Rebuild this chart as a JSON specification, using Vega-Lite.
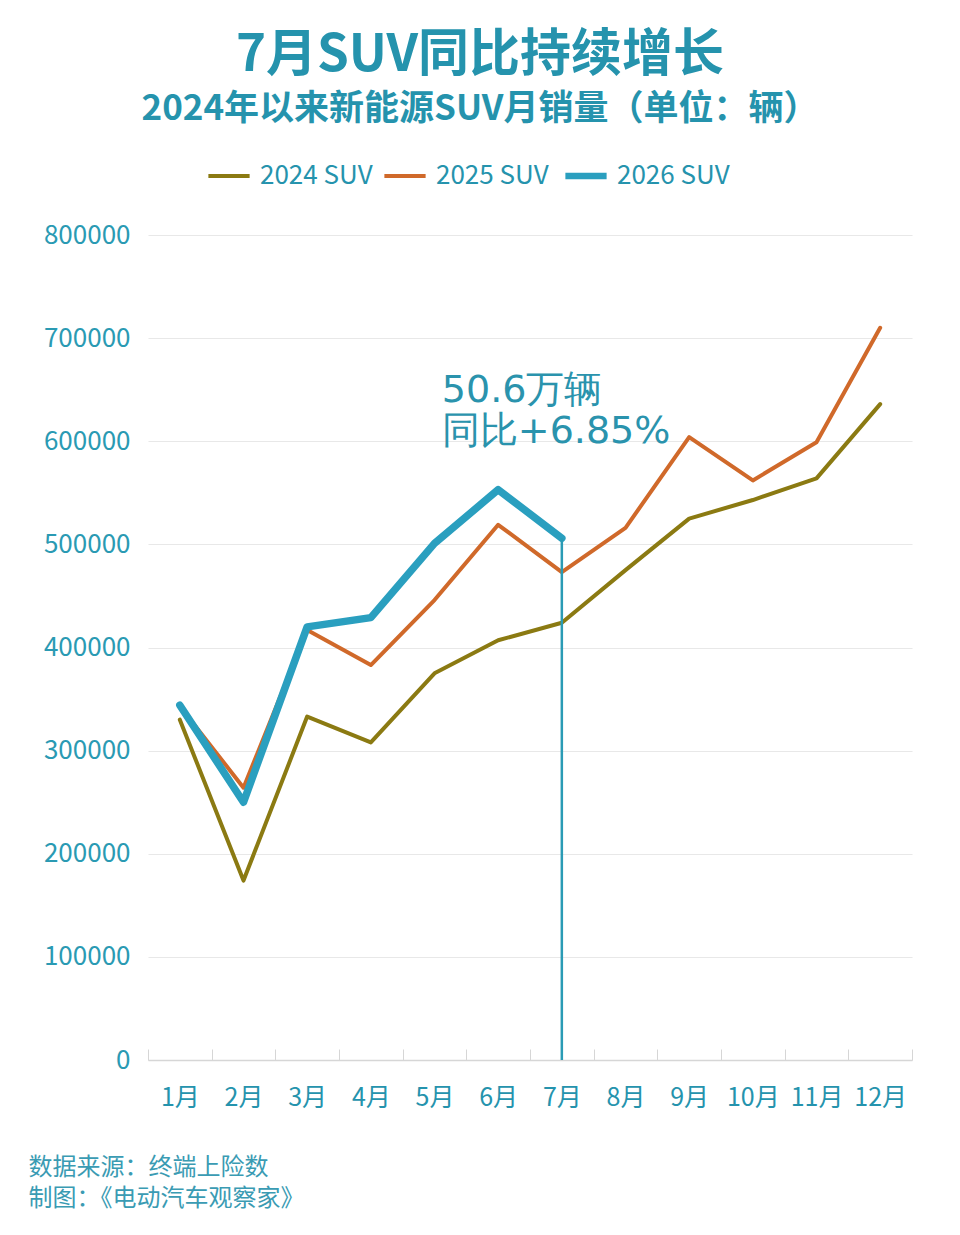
{
  "$schema": "https://vega.github.io/schema/vega-lite/v6.json",
  "width": 764,
  "height": 825,
  "autosize": {"type": "none"},
  "padding": {"left": 148, "top": 235, "right": 48, "bottom": 175},
  "background": "white",
  "config": {
    "font": "Noto Sans CJK SC",
    "view": {"stroke": null}
  },
  "title": {
    "text": "7月SUV同比持续增长",
    "subtitle": "2024年以来新能源SUV月销量（单位：辆）",
    "anchor": "middle",
    "frame": "group",
    "dx": -50,
    "offset": 35,
    "fontSize": 51,
    "fontWeight": "bold",
    "color": "#2593ad",
    "subtitleFontSize": 35,
    "subtitleFontWeight": "bold",
    "subtitleColor": "#2593ad",
    "subtitlePadding": 10
  },
  "data": {
    "values": [
      {"month": "1月", "series": "2024 SUV", "value": 330000},
      {"month": "2月", "series": "2024 SUV", "value": 174000},
      {"month": "3月", "series": "2024 SUV", "value": 333000},
      {"month": "4月", "series": "2024 SUV", "value": 308000},
      {"month": "5月", "series": "2024 SUV", "value": 375000},
      {"month": "6月", "series": "2024 SUV", "value": 407000},
      {"month": "7月", "series": "2024 SUV", "value": 424000},
      {"month": "8月", "series": "2024 SUV", "value": 475000},
      {"month": "9月", "series": "2024 SUV", "value": 525000},
      {"month": "10月", "series": "2024 SUV", "value": 543000},
      {"month": "11月", "series": "2024 SUV", "value": 564000},
      {"month": "12月", "series": "2024 SUV", "value": 636000},
      {"month": "1月", "series": "2025 SUV", "value": 343000},
      {"month": "2月", "series": "2025 SUV", "value": 264000},
      {"month": "3月", "series": "2025 SUV", "value": 417000},
      {"month": "4月", "series": "2025 SUV", "value": 383000},
      {"month": "5月", "series": "2025 SUV", "value": 446000},
      {"month": "6月", "series": "2025 SUV", "value": 519000},
      {"month": "7月", "series": "2025 SUV", "value": 473000},
      {"month": "8月", "series": "2025 SUV", "value": 516000},
      {"month": "9月", "series": "2025 SUV", "value": 604000},
      {"month": "10月", "series": "2025 SUV", "value": 562000},
      {"month": "11月", "series": "2025 SUV", "value": 599000},
      {"month": "12月", "series": "2025 SUV", "value": 710000},
      {"month": "1月", "series": "2026 SUV", "value": 344000},
      {"month": "2月", "series": "2026 SUV", "value": 250000},
      {"month": "3月", "series": "2026 SUV", "value": 420000},
      {"month": "4月", "series": "2026 SUV", "value": 429000},
      {"month": "5月", "series": "2026 SUV", "value": 501000},
      {"month": "6月", "series": "2026 SUV", "value": 553000},
      {"month": "7月", "series": "2026 SUV", "value": 506000}
    ]
  },
  "encoding": {
    "x": {
      "field": "month",
      "type": "nominal",
      "scale": {
        "type": "band",
        "domain": ["1月", "2月", "3月", "4月", "5月", "6月", "7月", "8月", "9月", "10月", "11月", "12月"],
        "paddingInner": 0,
        "paddingOuter": 0
      },
      "axis": {
        "title": ["数据来源：终端上险数", "制图：《电动汽车观察家》"],
        "titleFontSize": 24,
        "titleFontWeight": "normal",
        "titleColor": "#3a9bb3",
        "titleAnchor": "start",
        "titleAlign": "left",
        "titleBaseline": "top",
        "titleX": -120,
        "titleY": 95,
        "titleLineHeight": 31,
        "labelAngle": 0,
        "labelFontSize": 25,
        "labelColor": "#2593ad",
        "labelPadding": 36,
        "tickBand": "extent",
        "tickSize": -11,
        "tickColor": "#d6d6d6",
        "domainColor": "#d6d6d6",
        "domainWidth": 1.5,
        "grid": false
      }
    },
    "y": {
      "field": "value",
      "type": "quantitative",
      "scale": {"domain": [0, 800000], "nice": false},
      "axis": {
        "title": null,
        "values": [0, 100000, 200000, 300000, 400000, 500000, 600000, 700000, 800000],
        "format": "d",
        "domain": false,
        "ticks": false,
        "grid": true,
        "gridColor": "#e8e8e8",
        "gridWidth": 1.2,
        "labelFontSize": 26,
        "labelColor": "#2a9ab3",
        "labelPadding": 18
      }
    }
  },
  "layer": [
    {
      "mark": {"type": "line", "strokeJoin": "round", "strokeCap": "round"},
      "encoding": {
        "color": {
          "field": "series",
          "type": "nominal",
          "scale": {
            "domain": ["2024 SUV", "2025 SUV", "2026 SUV"],
            "range": ["#8b7a12", "#d0692a", "#2a9fbf"]
          },
          "legend": {
            "orient": "none",
            "legendX": 68,
            "legendY": -72,
            "direction": "horizontal",
            "title": null,
            "symbolType": "stroke",
            "symbolSize": 1700,
            "symbolStrokeWidth": 4,
            "labelFontSize": 26,
            "labelColor": "#2593ad",
            "labelOffset": 18,
            "columnPadding": 3,
            "encode": {
              "symbols": {
                "update": {
                  "strokeWidth": {"signal": "datum.label === '2026 SUV' ? 6.5 : 4"}
                }
              }
            }
          }
        },
        "strokeWidth": {
          "condition": {"test": "datum.series === '2026 SUV'", "value": 7.5},
          "value": 4
        }
      }
    },
    {
      "data": {"values": [{"month": "7月", "value": 506000}]},
      "mark": {"type": "rule", "color": "#2a9bb5", "strokeWidth": 2.5},
      "encoding": {
        "y2": {"datum": 0}
      }
    },
    {
      "data": {"values": [{"month": "7月", "value": 506000, "label": ["50.6万辆", "同比+6.85%"]}]},
      "mark": {
        "type": "text",
        "align": "left",
        "baseline": "bottom",
        "dx": -120,
        "dy": -128,
        "font": "DejaVu Sans",
        "fontSize": 38,
        "lineHeight": 41,
        "color": "#2a93ad"
      },
      "encoding": {
        "text": {"field": "label"}
      }
    }
  ]
}
